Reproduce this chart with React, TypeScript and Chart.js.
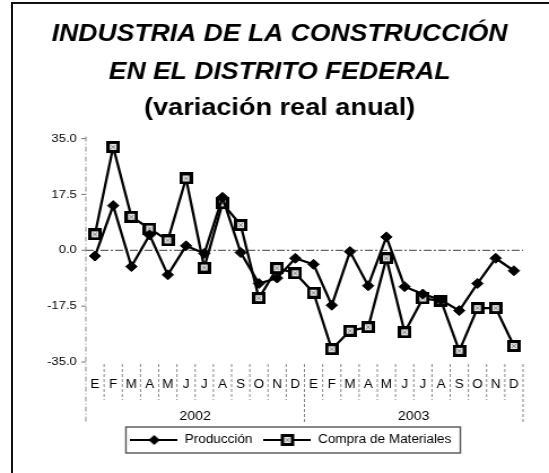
import React, { useEffect, useRef } from "react";
import { Chart, registerables } from "chart.js";

Chart.register(...registerables);

// ---- data ----
const months = ["E", "F", "M", "A", "M", "J", "J", "A", "S", "O", "N", "D", "E", "F", "M", "A", "M", "J", "J", "A", "S", "O", "N", "D"];
const years = ["2002", "2003"];
const produccion = [-1.8, 14.0, -5.1, 4.8, -7.7, 1.4, -1.0, 16.6, -0.7, -10.4, -8.7, -2.5, -4.4, -17.2, -0.4, -11.1, 4.2, -11.4, -13.7, -15.6, -18.9, -10.4, -2.5, -6.4];
const compra = [5.0, 32.4, 10.5, 6.8, 3.1, 22.5, -5.4, 14.7, 7.9, -15.0, -5.6, -7.2, -13.3, -31.0, -25.2, -24.1, -2.5, -25.7, -15.1, -15.8, -31.5, -18.1, -18.1, -30.0];
const yTicks = [-35, -17.5, 0, 17.5, 35];
const titleLines = ["INDUSTRIA DE LA CONSTRUCCIÓN", "EN EL DISTRITO FEDERAL"];
const subtitleText = "(variación real anual)";
const seriesNames = ["Producción", "Compra de Materiales"];

// ---- layout ----
const VIEW_W = 549;
const VIEW_H = 473;
const SX = 1.13; // the reference is horizontally stretched
const CW = Math.round(VIEW_W / SX);
const FONT = "'Liberation Sans', Arial, Helvetica, sans-serif";
const PAD_LEFT = 32;
const PLOT_LEFT = 76;
const PLOT_RIGHT = 463;
const LEGEND_SHIFT = 10;

function makeSquare(): HTMLCanvasElement {
  const c = document.createElement("canvas");
  c.width = 12;
  c.height = 12;
  const g = c.getContext("2d")!;
  g.fillStyle = "#000";
  g.fillRect(0, 0, 12, 12);
  g.fillStyle = "#e4e4e4";
  g.fillRect(3, 3, 6, 6);
  g.strokeStyle = "#8a8a8a";
  g.lineWidth = 1;
  g.beginPath();
  g.moveTo(4, 4);
  g.lineTo(8, 8);
  g.moveTo(8, 4);
  g.lineTo(4, 8);
  g.stroke();
  return c;
}

function makeLegendIcon(kind: "diamond" | "square"): HTMLCanvasElement {
  const c = document.createElement("canvas");
  c.width = 42;
  c.height = 12;
  const g = c.getContext("2d")!;
  g.strokeStyle = "#000";
  g.lineWidth = 2;
  g.beginPath();
  g.moveTo(0, 6);
  g.lineTo(42, 6);
  g.stroke();
  if (kind === "diamond") {
    g.fillStyle = "#000";
    g.beginPath();
    g.moveTo(21, 1);
    g.lineTo(26, 6);
    g.lineTo(21, 11);
    g.lineTo(16, 6);
    g.closePath();
    g.fill();
  } else {
    g.drawImage(makeSquare(), 15, 0);
  }
  return c;
}

const decorPlugin = {
  id: "decor",
  afterLayout(chart: any) {
    const lg = chart.legend;
    if (lg) {
      lg.left += LEGEND_SHIFT;
      lg.right += LEGEND_SHIFT;
    }
  },
  beforeDatasetsDraw(chart: any) {
    const { ctx, chartArea } = chart;
    const x = chart.scales.x;
    const y = chart.scales.y;
    const left = chartArea.left;
    const right = chartArea.right;
    const bottom = chartArea.bottom;
    const n = months.length;
    const w = (right - left) / n;
    ctx.save();
    // zero line
    const y0 = y.getPixelForValue(0);
    ctx.strokeStyle = "#666";
    ctx.lineWidth = 1.3;
    ctx.setLineDash([7, 2, 2, 2]);
    ctx.beginPath();
    ctx.moveTo(left, y0);
    ctx.lineTo(right, y0);
    ctx.stroke();
    // y axis line
    ctx.strokeStyle = "#888";
    ctx.lineWidth = 1;
    ctx.setLineDash([5, 2, 1, 2]);
    ctx.beginPath();
    ctx.moveTo(left, chartArea.top - 2);
    ctx.lineTo(left, bottom + 60);
    ctx.stroke();
    // y tick marks
    ctx.setLineDash([]);
    ctx.strokeStyle = "#777";
    yTicks.forEach((v) => {
      const py = y.getPixelForValue(v);
      ctx.beginPath();
      ctx.moveTo(left - 4, py);
      ctx.lineTo(left, py);
      ctx.stroke();
    });
    // separators
    ctx.setLineDash([3, 2]);
    ctx.strokeStyle = "#888";
    for (let i = 1; i <= n; i++) {
      const px = left + i * w;
      const isYear = i % 12 === 0;
      ctx.beginPath();
      ctx.moveTo(px, bottom + 2);
      ctx.lineTo(px, bottom + (isYear ? 62 : 38));
      ctx.stroke();
    }
    // month labels
    ctx.setLineDash([]);
    ctx.fillStyle = "#000";
    ctx.textAlign = "center";
    ctx.textBaseline = "middle";
    ctx.font = `12px ${FONT}`;
    months.forEach((m, i) => {
      ctx.fillText(m, x.getPixelForValue(i), bottom + 23);
    });
    // year labels
    ctx.font = `12.5px ${FONT}`;
    years.forEach((yr, k) => {
      const cx = (x.getPixelForValue(k * 12) + x.getPixelForValue(k * 12 + 11)) / 2;
      ctx.fillText(yr, cx, bottom + 55);
    });
    ctx.restore();
  },
  afterDraw(chart: any) {
    const hb = chart.legend && chart.legend.legendHitBoxes;
    if (!hb || !hb.length) return;
    const { ctx } = chart;
    const l = Math.min(...hb.map((h: any) => h.left)) - 4;
    const r = Math.max(...hb.map((h: any) => h.left + h.width)) + 8;
    const t = hb[0].top - 7;
    const b = hb[0].top + hb[0].height + 7;
    ctx.save();
    ctx.strokeStyle = "#555";
    ctx.lineWidth = 1.4;
    ctx.strokeRect(l, t, r - l, b - t);
    ctx.restore();
  },
};

export default function App() {
  const ref = useRef<HTMLCanvasElement | null>(null);

  useEffect(() => {
    const canvas = ref.current;
    if (!canvas) return;
    const square = makeSquare();
    const icons = [makeLegendIcon("diamond"), makeLegendIcon("square")];

    const chart = new Chart(canvas, {
      type: "line",
      data: {
        labels: months,
        datasets: [
          {
            label: seriesNames[0],
            data: produccion,
            borderColor: "#000",
            backgroundColor: "#000",
            borderWidth: 2.3,
            pointStyle: "rectRot",
            pointRadius: 5,
            pointBackgroundColor: "#000",
            pointBorderColor: "#000",
            pointBorderWidth: 1,
            tension: 0,
          },
          {
            label: seriesNames[1],
            data: compra,
            borderColor: "#000",
            backgroundColor: "#000",
            borderWidth: 2.3,
            pointStyle: square as any,
            pointRadius: 6,
            tension: 0,
          },
        ],
      },
      options: {
        animation: false,
        responsive: false,
        devicePixelRatio: 1,
        events: [],
        layout: { padding: { left: PAD_LEFT, right: CW - PLOT_RIGHT, top: 0, bottom: 17 } },
        scales: {
          x: {
            type: "category",
            offset: true,
            grid: { display: false, drawTicks: false },
            border: { display: false },
            ticks: { display: false },
            afterFit: (s: any) => {
              s.height = 62;
            },
          },
          y: {
            min: -35,
            max: 35,
            grid: { display: false, drawTicks: false },
            border: { display: false },
            afterBuildTicks: (s: any) => {
              s.ticks = yTicks.map((v) => ({ value: v }));
            },
            afterFit: (s: any) => {
              s.width = PLOT_LEFT - PAD_LEFT;
            },
            ticks: {
              padding: 8,
              color: "#000",
              font: { size: 11.5, family: FONT },
              callback: (v: any) => Number(v).toFixed(1),
            },
          },
        },
        plugins: {
          title: {
            display: true,
            text: titleLines,
            color: "#000",
            font: { size: 23.5, weight: "bold", style: "italic", family: FONT, lineHeight: 38 / 23.5 },
            padding: { top: 16, bottom: 0 },
          },
          subtitle: {
            display: true,
            text: subtitleText,
            color: "#000",
            font: { size: 24, weight: "bold", family: FONT, lineHeight: 1.4 },
            padding: { top: 0, bottom: 13 },
          },
          legend: {
            display: true,
            position: "bottom",
            labels: {
              usePointStyle: true,
              pointStyleWidth: 42,
              padding: 10,
              color: "#000",
              font: { size: 12, family: FONT },
              generateLabels: (ch: any) =>
                ch.data.datasets.map((ds: any, i: number) => ({
                  text: ds.label,
                  datasetIndex: i,
                  fillStyle: "#000",
                  strokeStyle: "#000",
                  lineWidth: 0,
                  hidden: false,
                  fontColor: "#000",
                  pointStyle: icons[i],
                })),
            },
          },
          tooltip: { enabled: false },
        },
      },
      plugins: [decorPlugin],
    });
    return () => chart.destroy();
  }, []);

  return (
    <div
      style={{
        position: "fixed",
        left: 0,
        top: 0,
        width: VIEW_W,
        height: VIEW_H,
        overflow: "hidden",
        background: "#fff",
      }}
    >
      <div
        style={{
          position: "absolute",
          left: 11,
          top: 2,
          width: 700,
          height: 700,
          borderLeft: "2px solid #111",
          borderTop: "2px solid #111",
        }}
      />
      <canvas
        ref={ref}
        width={CW}
        height={VIEW_H}
        style={{ position: "absolute", left: 0, top: 0, width: VIEW_W, height: VIEW_H }}
      />
    </div>
  );
}
